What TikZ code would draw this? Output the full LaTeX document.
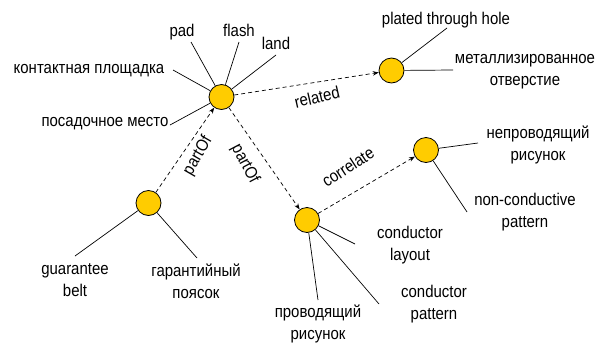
\documentclass[tikz,border=0pt]{standalone}
\usepackage{fontspec}
\setmainfont[FakeStretch=0.88]{Liberation Sans}
\usetikzlibrary{arrows.meta}
\definecolor{gold}{HTML}{FFCC00}
\tikzset{
  concept/.style={circle, draw=black, line width=0.8pt, fill=gold, minimum size=25pt, inner sep=0pt},
  term/.style={align=center, inner sep=0pt, font=\fontsize{17}{22}\selectfont},
  rel/.style={font=\fontsize{17}{22}\selectfont, inner sep=0pt},
  link/.style={draw=black, line width=0.7pt},
  dashlink/.style={draw=black, line width=0.7pt, dash pattern=on 4pt off 3pt, -{Stealth[length=6pt,width=4.5pt]}}
}
\begin{document}
\begin{tikzpicture}[x=1pt,y=-1pt]
\useasboundingbox (0,0) rectangle (600,346);
% concepts
\node[concept] (cA) at (221.5,97) {};
\node[concept] (cB) at (391.5,70.5) {};
\node[concept] (cC) at (148.5,203) {};
\node[concept] (cD) at (307,220) {};
\node[concept] (cE) at (426,150) {};
% terms
\node[term] (tPad) at (182,32) {pad};
\node[term] (tFlash) at (239,30) {flash};
\node[term] (tLand) at (276,43) {land};
\node[term] (tKont) at (89,71) {контактная площадка};
\node[term] (tPos) at (105,124) {посадочное место};
\node[term] (tPth) at (446,20) {plated through hole};
\node[term] (tMet) at (525,72) {металлизированное\\отверстие};
\node[term] (tNepr) at (538,145) {непроводящий\\рисунок};
\node[term] (tNonc) at (525,212) {non-conductive\\pattern};
\node[term] (tCLay) at (410,245) {conductor\\layout};
\node[term] (tCPat) at (434,304) {conductor\\pattern};
\node[term] (tProv) at (318,324) {проводящий\\рисунок};
\node[term] (tGuar) at (75,280) {guarantee\\belt};
\node[term] (tGar) at (196,281) {гарантийный\\поясок};
% line ends
\coordinate (ePad) at (191,42);
\coordinate (eFlash) at (239,42);
\coordinate (eLand) at (276,55);
\coordinate (eKont) at (173,70);
\coordinate (ePos) at (170,125);
\coordinate (ePth) at (447,28);
\coordinate (eMet) at (453,70);
\coordinate (eNepr) at (478,143);
\coordinate (eNonc) at (467,212);
\coordinate (eCLay) at (355,244);
\coordinate (eCPat) at (379,304);
\coordinate (eProv) at (318,300);
\coordinate (eGuar) at (75,256);
\coordinate (eGar) at (197,258);
% term links
\draw[link] (cA) -- (ePad);
\draw[link] (cA) -- (eFlash);
\draw[link] (cA) -- (eLand);
\draw[link] (cA) -- (eKont);
\draw[link] (cA) -- (ePos);
\draw[link] (cB) -- (ePth);
\draw[link] (cB) -- (eMet);
\draw[link] (cE) -- (eNepr);
\draw[link] (cE) -- (eNonc);
\draw[link] (cD) -- (eCLay);
\draw[link] (cD) -- (eCPat);
\draw[link] (cD) -- (eProv);
\draw[link] (cC) -- (eGuar);
\draw[link] (cC) -- (eGar);
% relations
\draw[dashlink] (cA) -- (cB);
\draw[dashlink] (cC) -- (cA);
\draw[dashlink] (cA) -- (cD);
\draw[dashlink] (cD) -- (cE);
\node[rel, rotate=13] (lRel) at (317,97) {related};
\node[rel, rotate=60] (lP1) at (198,156) {partOf};
\node[rel, rotate=-62] (lP2) at (245,164) {partOf};
\node[rel, rotate=33] (lCor) at (348,167) {correlate};
\end{tikzpicture}
\end{document}
